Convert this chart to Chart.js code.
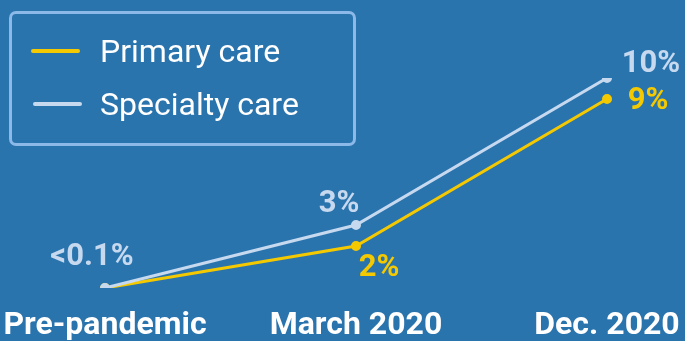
<!DOCTYPE html>
<html>
<head>
<meta charset="utf-8">
<script src="https://cdn.jsdelivr.net/npm/chart.js@4"></script>
<style>
  html, body { margin: 0; padding: 0; background: #2a74ae; }
  #wrap { position: relative; width: 685px; height: 341px; }
  #legend {
    position: absolute; left: 9px; top: 11px; width: 341px; height: 129px;
    border: 3px solid #8cb9e8; border-radius: 7px;
    font-family: Roboto, sans-serif; font-size: 32px; color: #fff;
  }
  .item { position: absolute; left: 0; height: 36px; line-height: 36px; }
  .swatch { position: absolute; top: 16px; height: 4px; width: 49px; border-radius: 2px; }
  .item span.txt { position: absolute; left: 88px; white-space: nowrap; }
</style>
</head>
<body>
<div id="wrap">
  <canvas id="chart" width="685" height="341"></canvas>
  <div id="legend">
    <div class="item" style="top:19px"><div class="swatch" style="left:19px;background:#f5c900"></div><span class="txt">Primary care</span></div>
    <div class="item" style="top:72px"><div class="swatch" style="left:21px;background:#c6d9ef"></div><span class="txt">Specialty care</span></div>
  </div>
</div>
<script>
// 데이터
var periods = ["Pre-pandemic", "March 2020", "Dec. 2020"];
var primaryValues = [0, 2, 9];
var specialtyValues = [0, 3, 10];
var primaryLabels = ["", "2%", "9%"];
var specialtyLabels = ["<0.1%", "3%", "10%"];

var primaryColor = "#f5c900";
var specialtyColor = "#c6d9ef";

// 값 라벨 그리기
var valueLabels = {
  id: "valueLabels",
  afterDatasetsDraw: function(chart) {
    var ctx = chart.ctx;
    ctx.save();
    ctx.font = "bold 31px Roboto";
    ctx.textAlign = "center";
    ctx.textBaseline = "middle";
    // specialty
    var sp = chart.getDatasetMeta(0).data;
    var spOff = [[-13, -31], [-17, -21], [44, -14]];
    ctx.fillStyle = specialtyColor;
    for (var i = 0; i < sp.length; i++) {
      ctx.fillText(specialtyLabels[i], sp[i].x + spOff[i][0], sp[i].y + spOff[i][1]);
    }
    var pr = chart.getDatasetMeta(1).data;
    var prOff = [[0, 0], [23, 22], [41, 2]];
    ctx.fillStyle = primaryColor;
    for (var j = 0; j < pr.length; j++) {
      if (primaryLabels[j]) ctx.fillText(primaryLabels[j], pr[j].x + prOff[j][0], pr[j].y + prOff[j][1]);
    }
    ctx.restore();
  }
};

new Chart(document.getElementById("chart"), {
  type: "line",
  data: {
    labels: periods,
    datasets: [{
      label: "Specialty care",
      data: specialtyValues,
      borderColor: specialtyColor,
      backgroundColor: specialtyColor,
      borderWidth: 3,
      pointRadius: 3.5,
      tension: 0
    }, {
      label: "Primary care",
      data: primaryValues,
      borderColor: primaryColor,
      backgroundColor: primaryColor,
      borderWidth: 3,
      pointRadius: 3.5,
      tension: 0
    }]
  },
  options: {
    responsive: false,
    animation: false,
    layout: { padding: { left: 0, right: 0, top: 78, bottom: 0 } },
    plugins: { legend: { display: false }, tooltip: { enabled: false } },
    scales: {
      x: {
        grid: { display: false, drawTicks: false, tickLength: 0 },
        border: { display: false },
        ticks: { color: "#fff", font: { family: "Roboto", weight: "bold", size: 32 }, padding: 19, maxRotation: 0, autoSkip: false },
        afterFit: function(scale) {
          scale.height = 53;
          scale.paddingLeft = 105;
          scale.paddingRight = 78;
        }
      },
      y: { display: false, min: 0, max: 10 }
    }
  },
  plugins: [valueLabels]
});
</script>
</body>
</html>
